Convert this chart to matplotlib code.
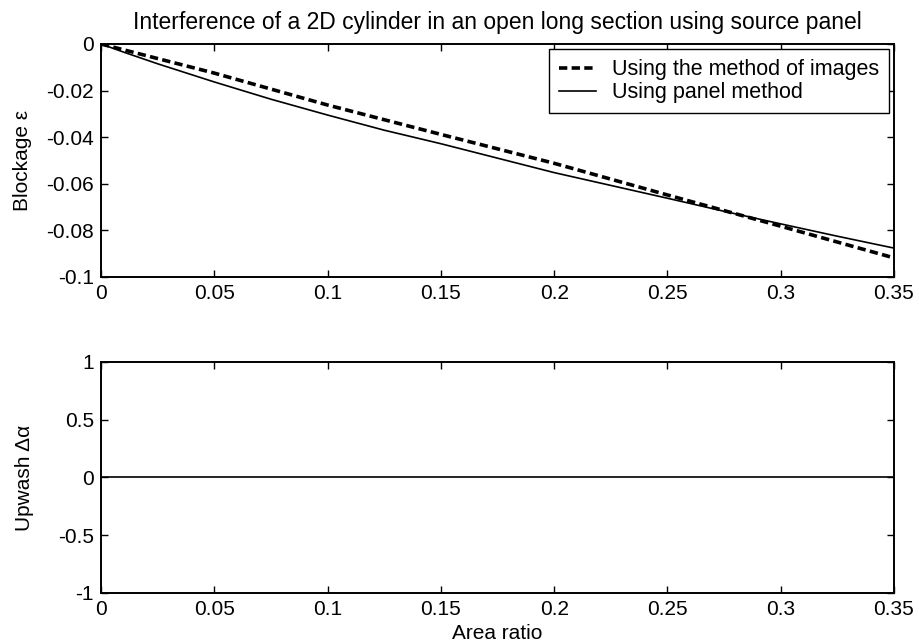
import matplotlib
matplotlib.use('Agg')
import matplotlib.pyplot as plt
import numpy as np

plt.rcParams['font.family'] = ['Liberation Sans', 'DejaVu Sans']

# area ratio
area_images = [0.0, 0.05, 0.1, 0.15, 0.2, 0.25, 0.3, 0.35]
eps_images = [0.0, -0.0125, -0.0262, -0.0388, -0.0512, -0.0648, -0.0782, -0.0918]

area_panel = [0.0, 0.01, 0.025, 0.05, 0.075, 0.1, 0.125, 0.15, 0.175,
              0.2, 0.225, 0.25, 0.275, 0.3, 0.325, 0.35]
eps_panel = [0.0, -0.0035, -0.0085, -0.0163, -0.0237, -0.0305, -0.037, -0.0428,
             -0.049, -0.0552, -0.0607, -0.0662, -0.0718, -0.0772, -0.0825, -0.0876]

area_upwash = [0.0, 0.35]
upwash = [0.0, 0.0]

xticks = [0, 0.05, 0.1, 0.15, 0.2, 0.25, 0.3, 0.35]
xticklabels = ['0', '0.05', '0.1', '0.15', '0.2', '0.25', '0.3', '0.35']
yticks_top = [0, -0.02, -0.04, -0.06, -0.08, -0.1]
yticklabels_top = ['0', '-0.02', '-0.04', '-0.06', '-0.08', '-0.1']
yticks_bot = [1, 0.5, 0, -0.5, -1]
yticklabels_bot = ['1', '0.5', '0', '-0.5', '-1']

fs = 15

fig = plt.figure(figsize=(9.2, 6.44), dpi=100)
ax1 = fig.add_axes([0.1098, 0.5699, 0.8619, 0.3618])
ax2 = fig.add_axes([0.1098, 0.0792, 0.8619, 0.3587])

ax1.plot(area_images, eps_images, color='k', lw=2.6, dashes=(2.3, 1.2),
         label='Using the method of images')
ax1.plot(area_panel, eps_panel, color='k', lw=1.2, label='Using panel method')
ax1.set_xlim(0, 0.35)
ax1.set_ylim(-0.1, 0)
ax1.set_xticks(xticks)
ax1.set_xticklabels(xticklabels)
ax1.set_yticks(yticks_top)
ax1.set_yticklabels(yticklabels_top)
ax1.set_ylabel('Blockage ε', fontsize=fs, labelpad=10)
ax1.set_title('Interference of a 2D cylinder in an open long section using source panel',
              fontsize=16.5, pad=11)
leg = ax1.legend(loc='upper right', fontsize=15.5, fancybox=False, framealpha=1,
                 edgecolor='k', borderaxespad=0.25, handlelength=1.7,
                 borderpad=0.45, labelspacing=0.1, handletextpad=0.75)
leg.get_frame().set_linewidth(1.0)

ax2.plot(area_upwash, upwash, color='k', lw=1.2)
ax2.set_xlim(0, 0.35)
ax2.set_ylim(-1, 1)
ax2.set_xticks(xticks)
ax2.set_xticklabels(xticklabels)
ax2.set_yticks(yticks_bot)
ax2.set_yticklabels(yticklabels_bot)
ax2.set_ylabel('Upwash Δα', fontsize=fs, labelpad=17)
ax2.set_xlabel('Area ratio', fontsize=fs, labelpad=4)

for ax in (ax1, ax2):
    ax.tick_params(direction='in', top=True, right=True, length=5, width=1,
                   labelsize=fs, pad=5, colors='k')
    for s in ax.spines.values():
        s.set_linewidth(1.4)

fig.savefig('out.png', dpi=100)
